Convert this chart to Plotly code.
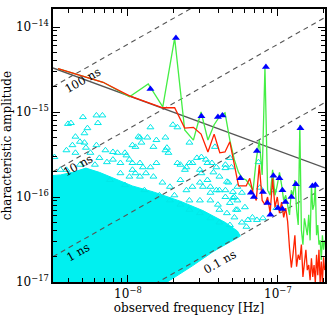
import numpy as np
import plotly.graph_objects as go

# ---------------- data (log10 values) ----------------
# harmonic bin numbers and base frequency of the binned spectra
bin_number = list(range(1, 61))
base_freq = 3.415e-9  # Hz

# red curve (log10 characteristic amplitude per bin)
red_logh = [-14.49, -14.65, -14.81, -14.89, -14.95, -14.95, -15.19, -15.18, -15.26, -15.47,
            -15.26, -15.48, -15.47, -15.35, -15.62, -15.87, -15.87, -15.87, -15.78, -15.95,
            -16.04, -15.62, -16.04, -16.09, -16.00, -16.19, -15.78, -16.12, -16.00, -16.19,
            -16.06, -16.24, -16.13, -16.29, -16.60, -16.83, -16.66, -16.45, -16.82, -16.68,
            -16.74, -16.56, -16.94, -16.76, -16.62, -16.86, -16.80, -16.98, -16.72, -16.94,
            -16.80, -17.01, -16.68, -16.92, -16.62, -17.01, -16.76, -17.01, -16.71, -16.86]

# green curve (log10 characteristic amplitude per bin)
green_logh = [-14.49, -14.65, -14.82, -14.67, -14.94, -14.13, -15.21, -15.33, -15.00, -15.33,
              -15.15, -15.05, -15.01, -15.33, -15.56, -15.71, -15.78, -15.80, -15.86, -15.92,
              -15.56, -15.33, -15.74, -14.47, -15.92, -15.98, -15.68, -15.98, -15.86, -15.71,
              -15.86, -16.04, -15.98, -16.09, -16.21, -15.92, -15.98, -15.80, -16.15, -16.33,
              -15.15, -16.39, -16.56, -16.25, -16.33, -16.45, -16.21, -16.51, -15.86, -16.15,
              -16.09, -15.85, -16.45, -16.33, -16.56, -16.51, -16.74, -16.45, -16.62, -16.51]

# loudest individual sources (blue filled triangles)
blue_logf = [-7.85, -7.68, -7.51, -7.40, -7.37, -7.25, -7.18, -7.16, -7.14, -7.10,
             -7.08, -7.07, -7.05, -7.03, -6.99, -6.97, -7.00, -6.97, -6.95, -6.91,
             -6.88, -6.85, -6.77, -6.75]
blue_logh = [-14.73, -14.13, -15.05, -15.06, -15.04, -15.78, -15.95, -16.00, -15.46, -15.94,
             -14.47, -16.07, -16.21, -15.75, -15.78, -15.92, -16.13, -16.14, -16.06, -16.00,
             -15.85, -15.19, -15.87, -15.86]

# sparse individual sources (cyan open triangles)
cyan_logf = [-8.30, -8.21, -8.17, -8.40, -8.38, -8.27, -8.20, -8.35, -8.37, -8.29,
             -8.29, -8.41, -8.35, -8.21, -8.10, -8.02, -8.19, -8.10, -8.05, -7.99,
             -7.92, -7.85, -7.81, -7.97, -7.95, -7.88, -7.83, -8.49, -8.25, -8.14,
             -8.07, -8.41, -8.32, -7.85, -7.70, -7.92, -7.95, -7.81, -7.74, -7.73,
             -7.59, -7.67, -7.54, -7.51, -8.01, -7.97, -7.90, -7.62, -7.59, -7.47,
             -7.51, -7.43, -7.39, -7.34, -7.52, -7.45, -7.41, -7.35, -7.30, -7.45,
             -7.40, -7.32, -7.27, -7.34, -7.29, -7.24, -7.20, -7.14, -7.10, -7.21,
             -7.17, -7.32, -7.31, -7.33, -7.27, -7.29, -7.24, -7.27, -7.22, -7.13,
             -7.03, -7.01, -7.67, -7.93, -7.87, -7.75, -7.42, -7.44, -7.35, -7.47,
             -7.50, -7.12, -8.28, -8.15, -7.97, -7.91, -7.83, -7.75, -7.65, -7.61,
             -7.57, -7.52, -7.48, -7.41, -7.35, -8.05, -7.99, -7.92, -7.77, -7.72,
             -7.65, -7.61, -7.57, -7.45, -7.39, -7.35, -7.30, -7.28, -7.39, -7.52,
             -7.59, -7.79, -7.72, -7.65, -7.59, -7.52, -7.45, -7.39, -7.32, -7.69,
             -7.89, -8.02, -8.12, -8.45, -8.22, -8.32]
cyan_logh = [-15.06, -15.04, -15.04, -15.14, -15.13, -15.19, -15.13, -15.29, -15.39, -15.25,
             -15.36, -15.45, -15.48, -15.39, -15.47, -15.48, -15.54, -15.56, -15.60, -15.56,
             -15.60, -15.65, -15.60, -15.68, -15.72, -15.72, -15.76, -15.53, -15.48, -15.59,
             -15.48, -15.68, -15.35, -15.18, -15.15, -15.30, -15.41, -15.33, -15.42, -15.48,
             -15.36, -15.60, -15.54, -15.53, -15.51, -15.60, -15.65, -15.68, -15.60, -15.60,
             -15.72, -15.71, -15.76, -15.82, -15.83, -15.88, -15.92, -15.92, -15.94, -16.04,
             -16.09, -16.07, -16.04, -16.19, -16.24, -16.30, -16.27, -16.27, -16.25, -16.35,
             -16.24, -15.54, -15.65, -15.83, -15.88, -16.00, -15.95, -16.15, -16.12, -15.59,
             -15.92, -16.13, -15.18, -15.29, -15.30, -15.30, -15.41, -15.60, -15.66, -15.80,
             -15.88, -15.89, -15.42, -15.45, -15.39, -15.36, -15.41, -15.45, -15.62, -15.65,
             -15.60, -15.68, -15.56, -15.65, -15.62, -15.72, -15.76, -15.76, -15.83, -15.88,
             -15.80, -15.92, -15.88, -15.95, -15.92, -16.00, -16.01, -16.15, -16.15, -16.04,
             -16.04, -15.98, -16.04, -16.09, -16.15, -16.19, -16.25, -16.30, -16.33, -15.98,
             -15.92, -15.86, -15.80, -15.68, -15.62, -15.62]

# outline of the densely populated region of cyan sources
dense_logf = [-8.52, -8.45, -8.37, -8.28, -8.19, -8.09, -7.97, -7.83, -7.65, -7.50,
              -7.35, -7.27, -7.25, -7.43, -7.57, -7.72, -7.80, -8.52]
dense_logh = [-15.75, -15.74, -15.71, -15.66, -15.71, -15.78, -15.87, -15.94, -16.05, -16.16,
              -16.30, -16.40, -16.46, -16.64, -16.81, -16.98, -17.07, -17.07]

# background power law (two end points)
gwb_freq = [3.16e-9, 2.06e-7]
gwb_amp = [3.30e-15, 2.20e-16]

# timing-residual reference lines
sigma_ns = [100, 10, 1, 0.1]
sigma_labels = ["100 ns", "10 ns", "1 ns", "0.1 ns"]
label_logf = [-8.30, -8.33, -8.33, -7.39]
label_logh = [-14.62, -15.62, -16.65, -16.76]

y_tickvals = [1e-17, 1e-16, 1e-15, 1e-14]
y_ticktext = ["10<sup>−17</sup>", "10<sup>−16</sup>", "10<sup>−15</sup>", "10<sup>−14</sup>"]
x_tickvals = [1e-8, 1e-7]
x_ticktext = ["10<sup>−8</sup>", "10<sup>−7</sup>"]

# ---------------- figure ----------------
XR = [-8.4996, -6.686]
YR = [-17.0, -13.788]
FONT = "DejaVu Serif"

freq = [k * base_freq for k in bin_number]
red_amp = [10 ** v for v in red_logh]
green_amp = [10 ** v for v in green_logh]

fig = go.Figure()

# dense cyan region
fig.add_trace(go.Scatter(
    x=[10 ** v for v in dense_logf], y=[10 ** v for v in dense_logh],
    mode="lines", fill="toself", fillcolor="#00f0f0",
    line=dict(color="#00f0f0", width=1), hoverinfo="skip", showlegend=False))

# sparse cyan triangles
fig.add_trace(go.Scatter(
    x=[10 ** v for v in cyan_logf], y=[10 ** v for v in cyan_logh],
    mode="markers",
    marker=dict(symbol="triangle-up-open", size=6, color="#00e8e8", line=dict(width=1)),
    showlegend=False))

# dashed timing-residual lines  h = 2 pi f sigma
fx = np.array([10 ** XR[0], 10 ** XR[1]])
for s in sigma_ns:
    fig.add_trace(go.Scatter(
        x=fx, y=2 * np.pi * fx * s * 1e-9, mode="lines",
        line=dict(color="#555555", width=1.1, dash="5px,4px"), showlegend=False))

# background line
fig.add_trace(go.Scatter(x=gwb_freq, y=gwb_amp, mode="lines",
                         line=dict(color="#555555", width=1.4), showlegend=False))

# green and red curves
fig.add_trace(go.Scatter(x=freq, y=green_amp, mode="lines",
                         line=dict(color="#44ee44", width=1.3), showlegend=False))
fig.add_trace(go.Scatter(x=freq, y=red_amp, mode="lines",
                         line=dict(color="#ff2200", width=1.3), showlegend=False))

# blue triangles
fig.add_trace(go.Scatter(
    x=[10 ** v for v in blue_logf], y=[10 ** v for v in blue_logh],
    mode="markers", marker=dict(symbol="triangle-up", size=7, color="#0000ff"),
    showlegend=False))

for lab, lx, ly in zip(sigma_labels, label_logf, label_logh):
    fig.add_annotation(x=lx, y=ly, text=lab, showarrow=False, textangle=-29.5,
                       font=dict(family=FONT, size=11.5, color="black"))

minor_x = [m * 10.0 ** e for e in (-9, -8, -7) for m in range(2, 10)]
minor_y = [m * 10.0 ** e for e in (-17, -16, -15, -14) for m in range(2, 10)]

axis_common = dict(type="log", showgrid=False, zeroline=False, showline=True,
                   linecolor="black", linewidth=1.5, mirror="allticks", automargin=False,
                   ticks="inside", ticklen=7, tickwidth=1, tickcolor="black",
                   tickfont=dict(family=FONT, size=12, color="black"))

fig.update_xaxes(**axis_common, range=XR, tickvals=x_tickvals, ticktext=x_ticktext,
                 minor=dict(tickvals=minor_x, ticks="inside", ticklen=4, tickcolor="black", showgrid=False),
                 title=dict(text="observed frequency [Hz]", font=dict(family=FONT, size=12, color="black"),
                            standoff=2))
fig.update_yaxes(**axis_common, range=YR, tickvals=y_tickvals, ticktext=y_ticktext,
                 minor=dict(tickvals=minor_y, ticks="inside", ticklen=4, tickcolor="black", showgrid=False),
                 title=dict(text="characteristic amplitude", font=dict(family=FONT, size=12, color="black"),
                            standoff=6))

fig.update_layout(width=332, height=317, margin=dict(l=53, r=7, t=9, b=35, autoexpand=False),
                  paper_bgcolor="white", plot_bgcolor="white", showlegend=False)

fig.write_html("out.html", config={"displayModeBar": False},
               post_script="document.body.style.margin='0px';document.body.style.overflow='hidden';")
